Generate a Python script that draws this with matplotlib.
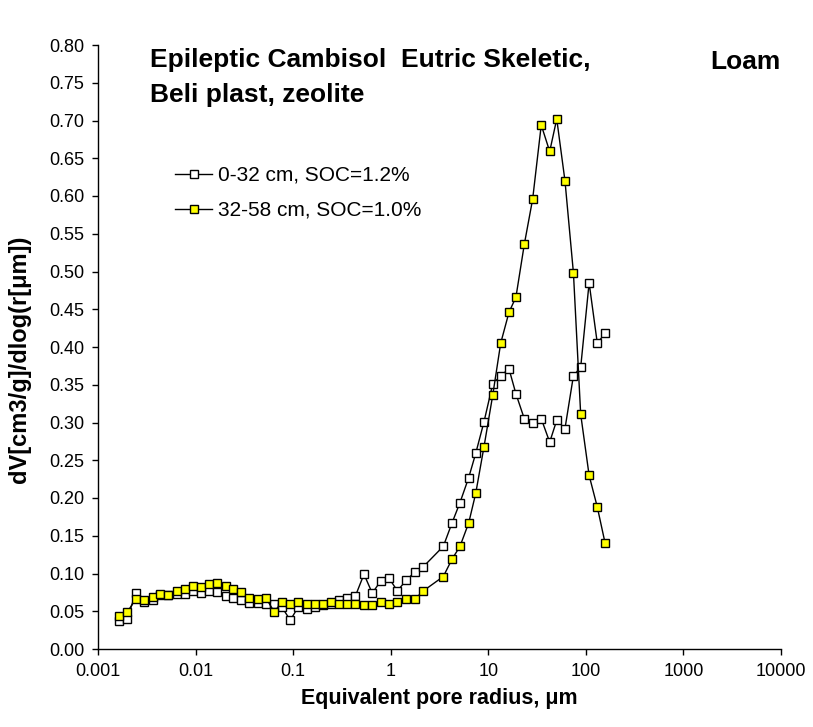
import numpy as np
import matplotlib
matplotlib.use("Agg")
import matplotlib.pyplot as plt

plt.rcParams['font.family'] = ['Liberation Sans', 'DejaVu Sans']

# pore radius, um (shared by both samples)
radius = [0.00164, 0.00200, 0.00243, 0.00298, 0.00364, 0.00432, 0.00525, 0.00641,
          0.00779, 0.00948, 0.0114, 0.0137, 0.0166, 0.0204, 0.0244, 0.0290,
          0.0353, 0.0433, 0.0524, 0.0641, 0.0763, 0.0935, 0.113, 0.138,
          0.168, 0.204, 0.244, 0.295, 0.359, 0.434, 0.532, 0.647,
          0.789, 0.959, 1.17, 1.44, 1.77, 2.16, 3.46, 4.25,
          5.13, 6.30, 7.43, 9.04, 11.1, 13.4, 16.3, 19.2,
          23.4, 28.5, 34.9, 42.6, 50.3, 61.1, 74.6, 88.5,
          108, 131, 157]

# 0-32 cm, SOC=1.2%
dv_top = [0.037, 0.040, 0.074, 0.062, 0.065, 0.071, 0.071, 0.073,
          0.073, 0.077, 0.074, 0.077, 0.076, 0.070, 0.067, 0.065,
          0.061, 0.061, 0.060, 0.060, 0.056, 0.038, 0.056, 0.053,
          0.056, 0.058, 0.060, 0.065, 0.068, 0.070, 0.099, 0.074,
          0.090, 0.094, 0.077, 0.091, 0.102, 0.109, 0.136, 0.167,
          0.194, 0.227, 0.259, 0.301, 0.351, 0.362, 0.371, 0.338,
          0.305, 0.300, 0.305, 0.274, 0.303, 0.292, 0.362, 0.373,
          0.485, 0.405, 0.418]

# 32-58 cm, SOC=1.0%
dv_sub = [0.044, 0.049, 0.066, 0.065, 0.069, 0.073, 0.071, 0.077,
          0.080, 0.084, 0.082, 0.086, 0.088, 0.084, 0.080, 0.075,
          0.067, 0.066, 0.068, 0.049, 0.062, 0.060, 0.062, 0.060,
          0.060, 0.060, 0.062, 0.059, 0.059, 0.060, 0.058, 0.058,
          0.062, 0.060, 0.062, 0.066, 0.066, 0.077, 0.096, 0.119,
          0.136, 0.167, 0.206, 0.268, 0.336, 0.405, 0.446, 0.466,
          0.536, 0.596, 0.694, 0.659, 0.702, 0.620, 0.498, 0.311,
          0.230, 0.188, 0.141]

labels = ['0-32 cm, SOC=1.2%', '32-58 cm, SOC=1.0%']
xticks = [0.001, 0.01, 0.1, 1, 10, 100, 1000, 10000]
xticklabels = ['0.001', '0.01', '0.1', '1', '10', '100', '1000', '10000']
yticks = np.arange(0, 0.801, 0.05)

fig = plt.figure(figsize=(8.13, 7.27), dpi=100)
ax = fig.add_axes([98/813, 78/727, 683/813, 604/727])

ax.plot(radius, dv_top, '-s', color='black', lw=1.0, ms=6.2,
        mfc='white', mec='black', mew=1.0, label=labels[0])
ax.plot(radius, dv_sub, '-s', color='black', lw=1.0, ms=6.2,
        mfc='#ffff00', mec='black', mew=1.0, label=labels[1])

ax.set_xscale('log')
ax.set_xlim(0.001, 10000)
ax.set_ylim(0, 0.80)
ax.set_xticks(xticks)
ax.set_xticklabels(xticklabels)
ax.minorticks_off()
ax.set_yticks(yticks)
ax.set_yticklabels(['%.2f' % v for v in yticks])

for s in ['top', 'right']:
    ax.spines[s].set_visible(False)
for s in ['left', 'bottom']:
    ax.spines[s].set_linewidth(1.0)
ax.tick_params(direction='out', length=4, width=1.0, labelsize=13, pad=6)

ax.set_xlabel('Equivalent pore radius, \u03bcm', fontsize=15.5, fontweight='bold', labelpad=6)
ax.set_ylabel('dV[cm3/g]/dlog(r[\u03bcm])', fontsize=17, fontweight='bold')
ax.yaxis.set_label_coords(-0.098, 0.48)

fig.text(150/813, 1 - 66.7/727, 'Epileptic Cambisol  Eutric Skeletic,',
         fontsize=19, fontweight='bold', va='baseline')
fig.text(150/813, 1 - 101.7/727, 'Beli plast, zeolite',
         fontsize=19, fontweight='bold', va='baseline')
fig.text(710/813, 1 - 69.3/727, 'Loam', fontsize=19, fontweight='bold', va='baseline')

ax.legend(loc='upper left', bbox_to_anchor=(0.113, 0.80), frameon=False,
          fontsize=15, handlelength=1.76, handletextpad=0.3, labelspacing=0.77,
          borderpad=0, borderaxespad=0)

fig.savefig('out.png', dpi=100)
